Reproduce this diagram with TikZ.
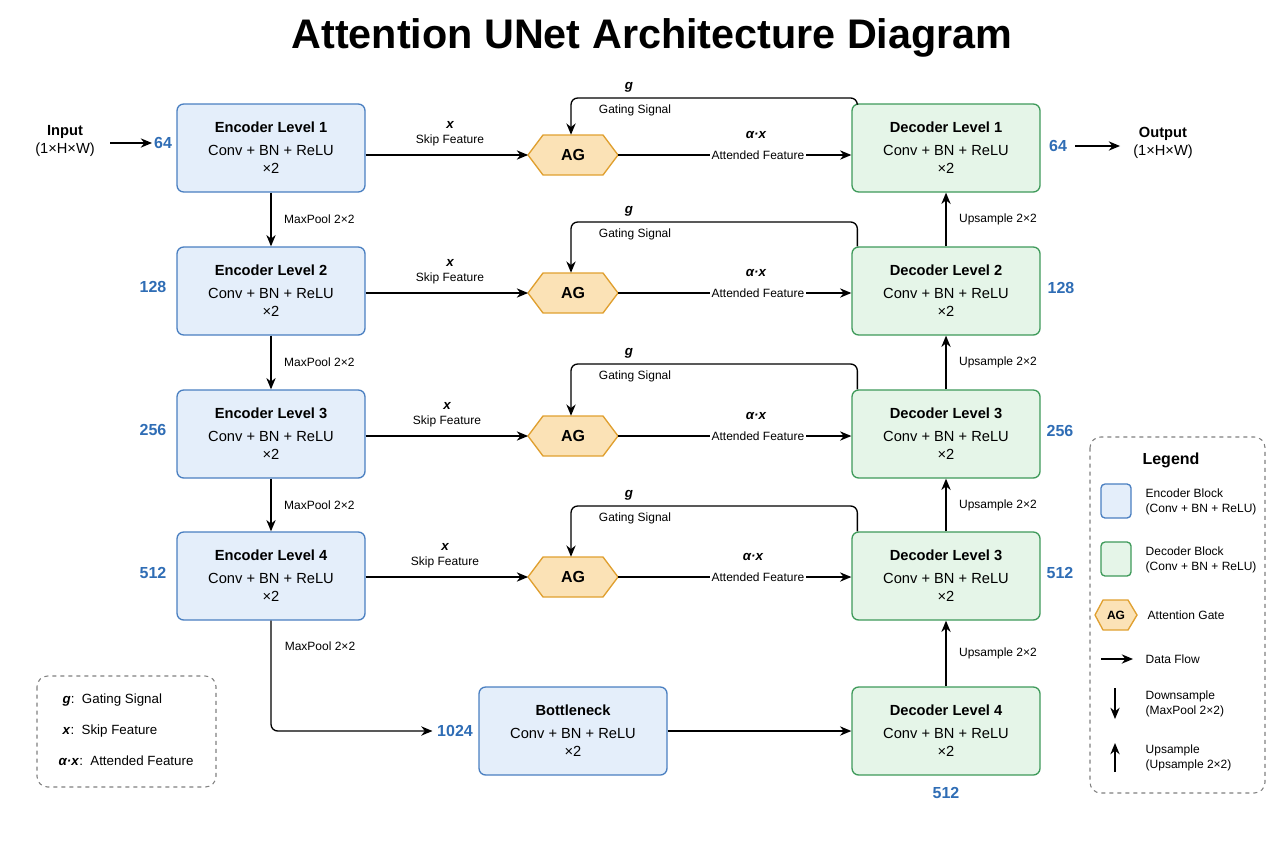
\documentclass[tikz,border=0pt]{standalone}
\usepackage{fontspec}
\setmainfont{Liberation Sans}
\usetikzlibrary{shapes.geometric,arrows.meta}
\definecolor{encf}{HTML}{E4EEFA}\definecolor{encd}{HTML}{4A7FC1}
\definecolor{decf}{HTML}{E5F5E8}\definecolor{decd}{HTML}{3E9A5A}
\definecolor{agf}{HTML}{FBE2B6}\definecolor{agd}{HTML}{E0A030}
\definecolor{chn}{HTML}{2F6DB5}
\begin{document}
\begin{tikzpicture}[x=0.75pt,y=-0.75pt,
 blk/.style={rounded corners=5pt,line width=1pt,minimum width=141pt,minimum height=66pt,align=center,font=\fontsize{11}{14}\selectfont},
 enc/.style={blk,fill=encf,draw=encd},
 dec/.style={blk,fill=decf,draw=decd},
 agn/.style={draw=agd,fill=agf,line width=1pt,font=\bfseries\fontsize{12}{14}\selectfont},
 arr/.style={-{Stealth[length=8.5pt,width=7pt]},line width=1pt},
 sm/.style={font=\fontsize{9}{11}\selectfont},
 gl/.style={font=\bfseries\itshape\fontsize{10}{12}\selectfont},
 ch/.style={font=\bfseries\fontsize{12}{14}\selectfont,text=chn},
 io/.style={font=\fontsize{11}{13}\selectfont,align=center}]
\useasboundingbox (0,0) rectangle (1280,853);
\node[font=\bfseries\fontsize{31}{36}\selectfont] (title) at (652,38) {Attention UNet Architecture Diagram};
\def\hexag(#1,#2)#3{\draw[agn] (#1-45,#2) -- (#1-30,#2-20) -- (#1+30,#2-20) -- (#1+45,#2) -- (#1+30,#2+20) -- (#1-30,#2+20) -- cycle; \node[font=\bfseries\fontsize{12}{14}\selectfont,minimum width=67pt,minimum height=30pt,inner sep=0pt] (#3) at (#1,#2) {AG};}
% encoders
\node[enc] (e1) at (271,148) {\textbf{Encoder Level 1}\\[3pt]Conv + BN + ReLU\\×2};
\node[enc] (e2) at (271,291) {\textbf{Encoder Level 2}\\[3pt]Conv + BN + ReLU\\×2};
\node[enc] (e3) at (271,434) {\textbf{Encoder Level 3}\\[3pt]Conv + BN + ReLU\\×2};
\node[enc] (e4) at (271,576) {\textbf{Encoder Level 4}\\[3pt]Conv + BN + ReLU\\×2};
\node[enc] (bn) at (573,731) {\textbf{Bottleneck}\\[3pt]Conv + BN + ReLU\\×2};
\node[dec] (d1) at (946,148) {\textbf{Decoder Level 1}\\[3pt]Conv + BN + ReLU\\×2};
\node[dec] (d2) at (946,291) {\textbf{Decoder Level 2}\\[3pt]Conv + BN + ReLU\\×2};
\node[dec] (d3) at (946,434) {\textbf{Decoder Level 3}\\[3pt]Conv + BN + ReLU\\×2};
\node[dec] (d3b) at (946,576) {\textbf{Decoder Level 3}\\[3pt]Conv + BN + ReLU\\×2};
\node[dec] (d4) at (946,731) {\textbf{Decoder Level 4}\\[3pt]Conv + BN + ReLU\\×2};
% AGs
\hexag(573,155){a1}
\hexag(573,293){a2}
\hexag(573,436){a3}
\hexag(573,577){a4}
% skip, attended, gating
\foreach \e/\a/\d/\y/\gy/\sx/\ax in {e1/a1/d1/155/98/450/756,e2/a2/d2/293/222/450/756,e3/a3/d3/436/364/447/756,e4/a4/d3b/577/506/445/753}{
 \draw[arr] (\e.east |- 0,\y) -- (\a.west |- 0,\y);
 \node[gl] at (\sx,\y-30) {x};
 \node[sm] at (\sx,\y-15) {Skip Feature};
 \draw[arr] (\a.east |- 0,\y) -- node[sm,fill=white,inner sep=1pt,pos=0.6] {Attended Feature} (\d.west |- 0,\y);
 \node[gl] at (\ax,\y-20) {α·x};
 \draw[arr,rounded corners=5pt] ([xshift=4.5pt]\d.north west) |- (571,\gy) -- (\a.north -| 571,0);
 \node[gl] at (629,\gy-11) {g};
 \node[sm] at (635,\gy+12) {Gating Signal};
}
% downsample
\draw[arr] (e1) -- node[sm,right=6pt,pos=0.5] {MaxPool 2×2} (e2);
\draw[arr] (e2) -- node[sm,right=6pt] {MaxPool 2×2} (e3);
\draw[arr] (e3) -- node[sm,right=6pt] {MaxPool 2×2} (e4);
\node[ch] (c1024) at (455,731) {1024};
\draw[arr,rounded corners=5pt] (e4.south) |- (c1024.west);
\node[sm] at (320,646) {MaxPool 2×2};
\draw[arr] (bn) -- (d4);
% upsample
\draw[arr] (d4) -- node[sm,right=6pt] {Upsample 2×2} (d3b);
\draw[arr] (d3b) -- node[sm,right=6pt] {Upsample 2×2} (d3);
\draw[arr] (d3) -- node[sm,right=6pt] {Upsample 2×2} (d2);
\draw[arr] (d2) -- node[sm,right=6pt] {Upsample 2×2} (d1);
% channels
\node[ch] at (163,143) {64};
\node[ch] at (153,287) {128};
\node[ch] at (153,430) {256};
\node[ch] at (153,573) {512};
\node[ch] at (1058,146) {64};
\node[ch] at (1061,288) {128};
\node[ch] at (1060,431) {256};
\node[ch] at (1060,573) {512};
\node[ch] at (946,793) {512};
% io
\node[io] (in) at (65,141) {\textbf{Input}\\(1×H×W)};
\node[io] (out) at (1163,143) {\textbf{Output}\\(1×H×W)};
\coordinate (ia) at (110,143); \coordinate (ib) at (152,143);
\draw[arr] (ia) -- (ib);
\coordinate (oa) at (1075,146); \coordinate (ob) at (1120,146);
\draw[arr] (oa) -- (ob);
% left legend
\draw[dashed,rounded corners=8pt,draw=gray,line width=0.8pt] (37,676) rectangle (216,787);
\node[anchor=west,font=\fontsize{10}{12}\selectfont] at (58,700) {\textbf{\textit{g}}:\ \ Gating Signal};
\node[anchor=west,font=\fontsize{10}{12}\selectfont] at (58,731) {\textbf{\textit{x}}:\ \ Skip Feature};
\node[anchor=west,font=\fontsize{10}{12}\selectfont] at (54,761) {\textbf{\textit{α·x}}:\ \ Attended Feature};
% right legend
\draw[dashed,rounded corners=8pt,draw=gray,line width=0.8pt] (1090,437) rectangle (1265,793);
\node[font=\bfseries\fontsize{12}{14}\selectfont] at (1171,460) {Legend};
\draw[fill=encf,draw=encd,line width=1pt,rounded corners=3pt] (1101,484) rectangle (1131,518);
\node[anchor=west,sm,align=left] at (1141,502) {Encoder Block\\(Conv + BN + ReLU)};
\draw[fill=decf,draw=decd,line width=1pt,rounded corners=3pt] (1101,542) rectangle (1131,576);
\node[anchor=west,sm,align=left] at (1141,560) {Decoder Block\\(Conv + BN + ReLU)};
\draw[agn] (1095,615) -- (1103,600) -- (1128,600) -- (1137,615) -- (1128,630) -- (1103,630) -- cycle;
\node[font=\bfseries\fontsize{9}{11}\selectfont] at (1116,615) {AG};
\node[anchor=west,sm] at (1143,615) {Attention Gate};
\draw[arr] (1101,659) -- (1133,659);
\node[anchor=west,sm] at (1141,659) {Data Flow};
\draw[arr] (1115,688) -- (1115,719);
\node[anchor=west,sm,align=left] at (1141,704) {Downsample\\(MaxPool 2×2)};
\draw[arr] (1115,772) -- (1115,743);
\node[anchor=west,sm,align=left] at (1141,758) {Upsample\\(Upsample 2×2)};
\end{tikzpicture}
\end{document}
